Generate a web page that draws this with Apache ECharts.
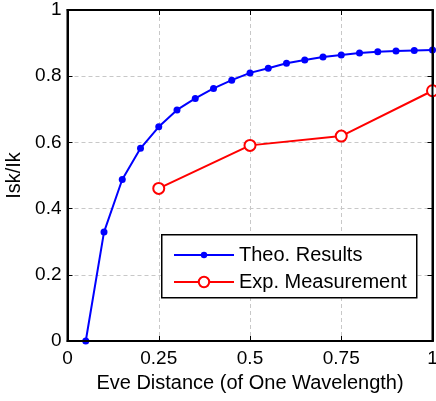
<!DOCTYPE html>
<html>
<head>
<meta charset="utf-8">
<title>Isk/Ik vs Eve Distance</title>
<script src="https://cdn.jsdelivr.net/npm/echarts@6/dist/echarts.min.js"></script>
<style>
html, body { margin: 0; padding: 0; background: #fff; }
#chart { width: 436px; height: 401px; }
</style>
</head>
<body>
<div id="chart"></div>
<script>
// theory curve, x = 0.05 .. 1
var theoX = [0.05, 0.1, 0.15, 0.2, 0.25, 0.3, 0.35, 0.4, 0.45, 0.5,
             0.55, 0.6, 0.65, 0.7, 0.75, 0.8, 0.85, 0.9, 0.95, 1];
var theoY = [0, 0.329, 0.488, 0.582, 0.647, 0.698, 0.733, 0.763, 0.788, 0.81,
             0.824, 0.839, 0.849, 0.858, 0.864, 0.87, 0.874, 0.876, 0.878, 0.879];
// measured points
var expX = [0.25, 0.5, 0.75, 1];
var expY = [0.461, 0.591, 0.619, 0.756];

var xTicks = [0, 0.25, 0.5, 0.75, 1];
var yTicks = [0, 0.2, 0.4, 0.6, 0.8, 1];

function pairs(xs, ys) {
    return xs.map(function (x, i) { return [x, ys[i]]; });
}

var font = 'Liberation Sans, Arial, sans-serif';
var chart = echarts.init(document.getElementById('chart'));

var gridLine = { show: true, showMinLine: false, showMaxLine: false,
                 lineStyle: { color: '#c8c8c8', type: [4, 3] } };

// top / right frame axes, ticks only
function frameAxis(pos, interval) {
    return {
        type: 'value', min: 0, max: 1, interval: interval, position: pos,
        axisLine: { show: true, onZero: false, lineStyle: { color: '#000', width: 2 } },
        axisTick: { show: true, inside: true, length: 5, lineStyle: { color: '#000' } },
        axisLabel: { show: false }, splitLine: { show: false }
    };
}

var legendBox = {
    id: 'legendBox', type: 'rect', left: 161, top: 234, z: 10,
    shape: { width: 255, height: 63 },
    style: { fill: '#fff', stroke: '#000', lineWidth: 1.5 }
};

var option = {
    animation: false,
    textStyle: { fontFamily: font },
    grid: { left: 67.5, right: 3.5, top: 10, bottom: 60, outerBoundsMode: 'none' },
    xAxis: [{
        type: 'value', min: 0, max: 1, interval: 0.25,
        name: 'Eve Distance (of One Wavelength)',
        nameLocation: 'middle', nameGap: 32,
        nameTextStyle: { color: '#000', fontSize: 20, fontFamily: font },
        axisLine: { show: true, onZero: false, lineStyle: { color: '#000', width: 2 } },
        axisTick: { show: true, inside: true, length: 5, lineStyle: { color: '#000' } },
        axisLabel: { color: '#000', fontSize: 19, fontFamily: font, margin: 8,
            formatter: function (v) { return xTicks.indexOf(v) >= 0 ? String(v) : ''; } },
        splitLine: gridLine
    }, frameAxis('top', 0.25)],
    yAxis: [{
        type: 'value', min: 0, max: 1, interval: 0.2,
        name: 'Isk/Ik',
        nameLocation: 'middle', nameGap: 42,
        nameTextStyle: { color: '#000', fontSize: 20, fontFamily: font },
        axisLine: { show: true, onZero: false, lineStyle: { color: '#000', width: 2 } },
        axisTick: { show: true, inside: true, length: 5, lineStyle: { color: '#000' } },
        axisLabel: { color: '#000', fontSize: 19, fontFamily: font, margin: 6,
            formatter: function (v) { return String(Math.round(v * 10) / 10); } },
        splitLine: gridLine
    }, frameAxis('right', 0.2)],
    graphic: [legendBox],
    legend: [{
        left: 173, top: 245,
        padding: 0,
        itemWidth: 60, itemHeight: 8, itemGap: 0,
        z: 20,
        textStyle: { color: '#000', fontSize: 20, fontFamily: font },
        data: ['Theo. Results']
    }, {
        left: 173, top: 272,
        padding: 0,
        itemWidth: 60, itemHeight: 13, itemGap: 0,
        z: 20,
        textStyle: { color: '#000', fontSize: 20, fontFamily: font },
        data: ['Exp. Measurement']
    }],
    series: [{
        name: 'Theo. Results',
        type: 'line',
        data: pairs(theoX, theoY),
        symbol: 'circle', symbolSize: 7,
        itemStyle: { color: '#0000ff' },
        lineStyle: { color: '#0000ff', width: 2 },
        z: 3
    }, {
        name: 'Exp. Measurement',
        type: 'line',
        data: pairs(expX, expY),
        symbol: 'emptyCircle', symbolSize: 11,
        itemStyle: { color: '#ff0000', borderWidth: 2 },
        lineStyle: { color: '#ff0000', width: 2 },
        z: 2
    }]
};
chart.setOption(option);

// plot frame from the axis extents
var p0 = chart.convertToPixel({ gridIndex: 0 }, [0, 0]);
var p1 = chart.convertToPixel({ gridIndex: 0 }, [1, 1]);
chart.setOption({
    graphic: [legendBox, {
        id: 'frame', type: 'rect', z: 5, silent: true,
        shape: { x: p0[0], y: p1[1], width: p1[0] - p0[0], height: p0[1] - p1[1] },
        style: { fill: 'none', stroke: '#000', lineWidth: 2 }
    }]
});
</script>
</body>
</html>
